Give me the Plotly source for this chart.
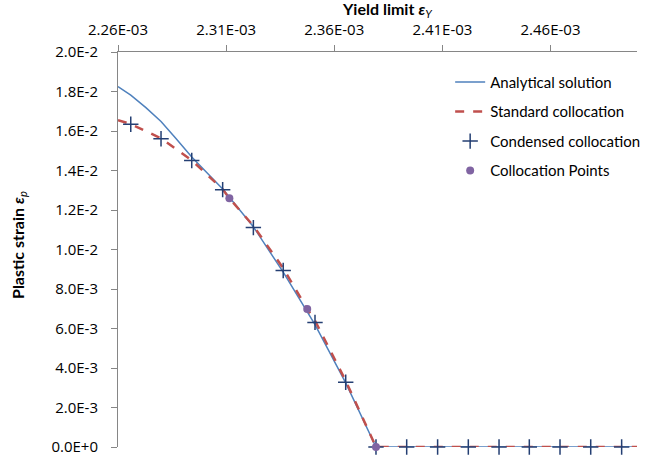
import plotly.graph_objects as go

# ---- data (x: yield limit, y: plastic strain) ----
cond_x = [2.2659e-3, 2.2799e-3, 2.2941e-3, 2.3084e-3, 2.3226e-3, 2.3364e-3, 2.3511e-3,
          2.3653e-3, 2.3793e-3, 2.3935e-3, 2.4078e-3, 2.4220e-3, 2.4362e-3, 2.4502e-3,
          2.4644e-3, 2.4786e-3, 2.4929e-3]
cond_y = [1.634e-2, 1.561e-2, 1.451e-2, 1.303e-2, 1.111e-2, 8.94e-3, 6.31e-3,
          3.28e-3, 0, 0, 0, 0, 0, 0, 0, 0, 0]

anal_x = [2.2600e-3, 2.2659e-3, 2.2729e-3, 2.2799e-3, 2.2870e-3, 2.2941e-3, 2.3084e-3,
          2.3226e-3, 2.3364e-3, 2.3511e-3, 2.3653e-3, 2.3793e-3, 2.5000e-3]
anal_y = [1.825e-2, 1.782e-2, 1.718e-2, 1.648e-2, 1.560e-2, 1.468e-2, 1.306e-2,
          1.115e-2, 8.85e-3, 6.20e-3, 3.25e-3, 0, 0]

std_x = [2.2600e-3, 2.2659e-3, 2.2799e-3, 2.2941e-3, 2.3084e-3, 2.3115e-3, 2.3226e-3,
         2.3364e-3, 2.3475e-3, 2.3511e-3, 2.3653e-3, 2.3793e-3, 2.5000e-3]
std_y = [1.655e-2, 1.635e-2, 1.563e-2, 1.452e-2, 1.305e-2, 1.259e-2, 1.120e-2,
         9.05e-3, 6.99e-3, 6.40e-3, 3.35e-3, 0, 0]

coll_x = [2.3115e-3, 2.3475e-3, 2.3793e-3]
coll_y = [1.259e-2, 6.99e-3, 0]

x_tickvals = [2.26e-3, 2.31e-3, 2.36e-3, 2.41e-3, 2.46e-3]
x_ticktext = ["2.26E-03", "2.31E-03", "2.36E-03", "2.41E-03", "2.46E-03"]
y_tickvals = [0, 2e-3, 4e-3, 6e-3, 8e-3, 1e-2, 1.2e-2, 1.4e-2, 1.6e-2, 1.8e-2, 2e-2]
y_ticktext = ["0.0E+0", "2.0E-3", "4.0E-3", "6.0E-3", "8.0E-3", "1.0E-2",
              "1.2E-2", "1.4E-2", "1.6E-2", "1.8E-2", "2.0E-2"]

TICKFONT = dict(family="Open Sans, sans-serif", size=15, color="#000000")
LEGFONT = dict(family="Lato, sans-serif", size=15, color="#000000")
TITLEFONT = dict(family="Lato, sans-serif", size=16, color="#000000")

fig = go.Figure()
fig.add_trace(go.Scatter(x=anal_x, y=anal_y, mode="lines", name="Analytical solution",
                         line=dict(color="#4F81BD", width=1.5),
                         cliponaxis=False, legendgroup="a"))
fig.add_trace(go.Scatter(x=std_x, y=std_y, mode="lines", name="Standard collocation",
                         line=dict(color="#C0504D", width=2.5, dash="dash"), cliponaxis=False,
                         legendgroup="b"))
fig.add_trace(go.Scatter(x=cond_x, y=cond_y, mode="markers", name="Condensed collocation",
                         marker=dict(symbol="cross-thin", size=11,
                                     line=dict(color="#243F73", width=1.5)),
                         cliponaxis=False, legendgroup="c"))
fig.add_trace(go.Scatter(x=coll_x, y=coll_y, mode="markers", name="Collocation Points",
                         marker=dict(symbol="circle", size=8, color="#8064A2"),
                         cliponaxis=False, legendgroup="d"))

fig.update_layout(
    width=654, height=462,
    margin=dict(l=118, r=17, t=52, b=15, autoexpand=False),
    paper_bgcolor="white", plot_bgcolor="white",
    font=dict(family="Lato, sans-serif", size=14, color="#000000"),
    showlegend=True,
    legend=dict(x=0.64, y=0.965, xanchor="left", yanchor="top",
                bgcolor="rgba(0,0,0,0)", font=LEGFONT,
                traceorder="grouped", tracegroupgap=7),
    xaxis=dict(range=[2.26e-3, 2.50e-3], side="top", tickvals=x_tickvals,
               ticktext=x_ticktext, showgrid=False, zeroline=False,
               showline=True, linecolor="#868686", linewidth=1,
               ticks="outside", ticklen=6, tickcolor="#868686",
               tickfont=TICKFONT, ticklabelstandoff=4, automargin=False),
    yaxis=dict(range=[0, 0.02], tickvals=y_tickvals, ticktext=y_ticktext,
               showgrid=False, zeroline=False, showline=True,
               linecolor="#868686", linewidth=1, ticks="outside", ticklen=6,
               tickcolor="#868686", tickfont=TICKFONT, ticklabelstandoff=10,
               automargin=False),
    annotations=[
        dict(text="<b>Yield limit</b> <i><b>ε</b><sub>Y</sub></i>", xref="paper",
             yref="paper", x=0.52, y=1.108, xanchor="center", yanchor="middle",
             showarrow=False, font=TITLEFONT),
        dict(text="<b>Plastic strain</b> <i><b>ε</b><sub>p</sub></i>", xref="paper",
             yref="paper", x=-0.193, y=0.511, xanchor="center", yanchor="middle",
             textangle=-90, showarrow=False, font=TITLEFONT),
    ],
)

fig.write_html("out.html", config={"displayModeBar": False},
               post_script="document.body.style.margin='0px';document.body.style.padding='0px';")
